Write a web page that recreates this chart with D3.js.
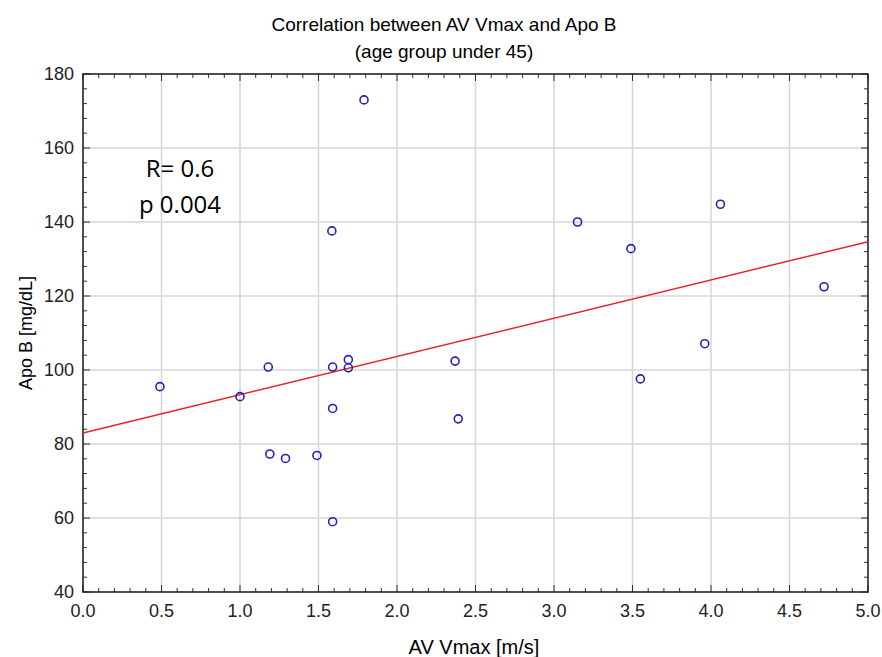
<!DOCTYPE html>
<html>
<head>
<meta charset="utf-8">
<script src="https://cdn.jsdelivr.net/npm/d3@7"></script>
<style>
  body { margin: 0; background: #fff; }
  text { font-family: "Liberation Sans", Arial, sans-serif; }
</style>
</head>
<body>
<figure style="margin:0"></figure>
<script>
const width = 882
const height = 657
const margin = { top: 74, right: 14, bottom: 65, left: 83 }

// AV Vmax [m/s]
const vmax = [0.49, 1.0, 1.18, 1.19, 1.29, 1.49, 1.59, 1.59, 1.59, 1.585, 1.69, 1.69, 1.79,
  2.37, 2.39, 3.15, 3.49, 3.55, 3.96, 4.06, 4.72]
// Apo B [mg/dL]
const apoB = [95.5, 92.8, 100.8, 77.3, 76.1, 76.9, 100.8, 89.6, 59.0, 137.6, 102.8, 100.6, 173.0,
  102.4, 86.8, 140.0, 132.8, 97.6, 107.1, 144.8, 122.5]

const xTicks = [0, 0.5, 1, 1.5, 2, 2.5, 3, 3.5, 4, 4.5, 5]
const yTicks = [40, 60, 80, 100, 120, 140, 160, 180]
const statLines = ['R= 0.6', 'p 0.004']

const points = vmax.map((v, i) => ({ x: v, y: apoB[i] }))

// least squares fit
const mx = d3.mean(vmax)
const my = d3.mean(apoB)
const slope = d3.sum(points, d => (d.x - mx) * (d.y - my)) / d3.sum(points, d => (d.x - mx) ** 2)
const intercept = my - slope * mx

const x = d3.scaleLinear().domain([0, 5]).range([margin.left, width - margin.right])
const y = d3.scaleLinear().domain([40, 180]).range([height - margin.bottom, margin.top])

const svg = d3.select('figure').append('svg')
  .attr('width', width)
  .attr('height', height)

// grid
svg.append('g')
  .selectAll('line')
  .data(xTicks.slice(1, -1))
  .join('line')
  .attr('x1', d => x(d)).attr('x2', d => x(d))
  .attr('y1', y(40)).attr('y2', y(180))
  .attr('stroke', '#d6d6d6').attr('stroke-width', 1.5)

svg.append('g')
  .selectAll('line')
  .data(yTicks.slice(1, -1))
  .join('line')
  .attr('y1', d => y(d)).attr('y2', d => y(d))
  .attr('x1', x(0)).attr('x2', x(5))
  .attr('stroke', '#d6d6d6').attr('stroke-width', 1.5)

// inward ticks on all four sides
const xMinor = d3.range(0, 5.001, 0.1)
const yMinor = d3.range(40, 180.001, 4)
const tickG = svg.append('g').attr('stroke', '#333').attr('stroke-width', 1)

const isMajorX = v => Math.abs(v * 2 - Math.round(v * 2)) < 1e-6
const isMajorY = v => Math.abs(v / 20 - Math.round(v / 20)) < 1e-6

tickG.selectAll('.tb').data(xMinor).join('line')
  .attr('x1', d => x(d)).attr('x2', d => x(d))
  .attr('y1', y(40)).attr('y2', d => y(40) - (isMajorX(d) ? 7 : 4))
tickG.selectAll('.tt').data(xMinor).join('line')
  .attr('x1', d => x(d)).attr('x2', d => x(d))
  .attr('y1', y(180)).attr('y2', d => y(180) + (isMajorX(d) ? 7 : 4))
tickG.selectAll('.tl').data(yMinor).join('line')
  .attr('y1', d => y(d)).attr('y2', d => y(d))
  .attr('x1', x(0)).attr('x2', d => x(0) + (isMajorY(d) ? 7 : 4))
tickG.selectAll('.tr').data(yMinor).join('line')
  .attr('y1', d => y(d)).attr('y2', d => y(d))
  .attr('x1', x(5)).attr('x2', d => x(5) - (isMajorY(d) ? 7 : 4))

// frame
svg.append('rect')
  .attr('x', x(0)).attr('y', y(180))
  .attr('width', x(5) - x(0)).attr('height', y(40) - y(180))
  .attr('fill', 'none').attr('stroke', '#222').attr('stroke-width', 1.6)

// tick labels
svg.append('g')
  .selectAll('text')
  .data(xTicks)
  .join('text')
  .attr('x', d => x(d))
  .attr('y', y(40) + 25)
  .attr('text-anchor', 'middle')
  .style('font-size', '18px')
  .attr('fill', '#222')
  .text(d => d.toFixed(1))

svg.append('g')
  .selectAll('text')
  .data(yTicks)
  .join('text')
  .attr('x', x(0) - 9)
  .attr('y', d => y(d) + 6)
  .attr('text-anchor', 'end')
  .style('font-size', '18px')
  .attr('fill', '#222')
  .text(d => d)

// regression line
svg.append('line')
  .attr('x1', x(0)).attr('y1', y(intercept))
  .attr('x2', x(5)).attr('y2', y(intercept + slope * 5))
  .attr('stroke', '#e3262b').attr('stroke-width', 1.5)

// points
svg.append('g')
  .selectAll('circle')
  .data(points)
  .join('circle')
  .attr('cx', d => x(d.x))
  .attr('cy', d => y(d.y))
  .attr('r', 4)
  .attr('fill', 'none')
  .attr('stroke', '#2222bb')
  .attr('stroke-width', 1.6)

// titles
svg.append('text')
  .attr('x', 444).attr('y', 31)
  .attr('text-anchor', 'middle')
  .style('font-size', '19px')
  .text('Correlation between AV Vmax and Apo B')
svg.append('text')
  .attr('x', 444).attr('y', 58)
  .attr('text-anchor', 'middle')
  .style('font-size', '19px')
  .text('(age group under 45)')

svg.append('text')
  .attr('x', 474).attr('y', 654)
  .attr('text-anchor', 'middle')
  .style('font-size', '20px')
  .text('AV Vmax [m/s]')

svg.append('text')
  .attr('transform', `translate(32,${(y(40) + y(180)) / 2}) rotate(-90)`)
  .attr('text-anchor', 'middle')
  .style('font-size', '18px')
  .text('Apo B [mg/dL]')

// stats annotation
svg.append('g')
  .selectAll('text')
  .data(statLines)
  .join('text')
  .attr('x', 180)
  .attr('y', (d, i) => 177 + i * 36)
  .attr('text-anchor', 'middle')
  .style('font-family', '"Open Sans", sans-serif')
  .style('font-size', '24px')
  .text(d => d)
</script>
</body>
</html>
